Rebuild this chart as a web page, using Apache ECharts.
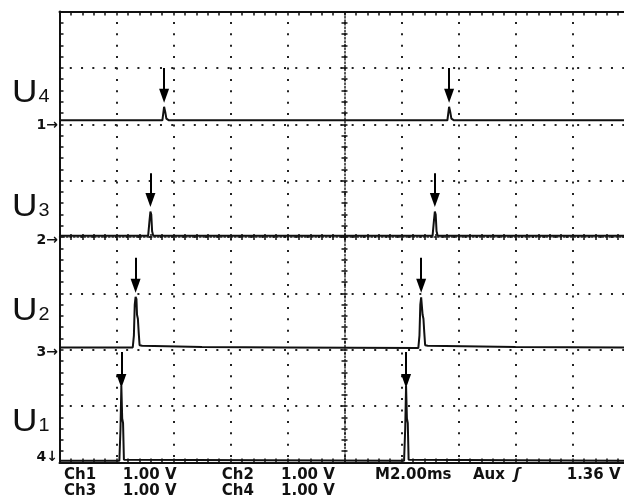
<!DOCTYPE html>
<html><head><meta charset="utf-8">
<script src="https://cdn.jsdelivr.net/npm/echarts@6/dist/echarts.min.js"></script>
<style>html,body{margin:0;padding:0;background:#fff}#c{width:624px;height:498px}</style>
</head><body><div id="c"></div>
<script>
// ---- data (x: time in ms, 2 ms/div; y: screen divisions 0..8) ----
const traceLabels = ['4', '3', '2', '1'];          // subscripts of U4, U3, U2, U1
const channelMarkers = ['1\u2192', '2\u2192', '3\u2192', '4\u2193'];
const u4Trace = [[0,6.07],[3.61,6.07],[3.67,6.31],[3.71,6.22],[3.75,6.10],[3.84,6.07],
                 [13.61,6.07],[13.67,6.31],[13.71,6.22],[13.75,6.10],[13.84,6.07],[20,6.07]];
const u3Trace = [[0,4.02],[3.11,4.02],[3.16,4.30],[3.19,4.45],[3.22,4.40],[3.25,4.10],[3.29,4.02],
                 [13.09,4.02],[13.14,4.30],[13.17,4.45],[13.20,4.40],[13.23,4.10],[13.27,4.02],[20,4.02]];
const u2Trace = [[0,2.04],[2.57,2.04],[2.61,2.25],[2.64,2.80],[2.67,2.94],[2.70,2.90],[2.72,2.62],
                 [2.75,2.55],[2.78,2.30],[2.81,2.08],[2.90,2.07],[5,2.05],[8,2.04],
                 [12.59,2.03],[12.63,2.25],[12.66,2.80],[12.69,2.93],[12.72,2.90],[12.74,2.62],
                 [12.77,2.55],[12.80,2.30],[12.83,2.08],[12.92,2.07],[16,2.05],[20,2.04]];
const u1Trace = [[0,0.03],[2.10,0.03],[2.14,0.60],[2.17,1.36],[2.20,0.78],[2.23,0.70],[2.26,0.05],[2.32,0.03],
                 [12.09,0.03],[12.13,0.60],[12.16,1.36],[12.19,0.78],[12.22,0.70],[12.25,0.05],[12.31,0.03],[20,0.03]];
const arrowTimes = [[3.67,13.67],[3.19,13.17],[2.67,12.69],[2.17,12.16]];
const arrowTops  = [7.00, 5.13, 3.63, 1.96];
const arrowTips  = [6.38, 4.53, 3.01, 1.32];
const readoutRow1 = ['Ch1','1.00 V','Ch2','1.00 V','M2.00ms','Aux','\u0283','1.36 V'];
const readoutRow2 = ['Ch3','1.00 V','Ch4','1.00 V'];

// ---- layout ----
const traces = [u4Trace, u3Trace, u2Trace, u1Trace];
const labelPos = [[12,109],[12,223],[12,327],[12,438]];
const markerY = [125, 240, 352, 457];
const row1X = [64,122.7,221.7,281,375,473,514,566.7];
const row2X = [64,122.7,221.7,281];
const INK = '#111';
const GRID = {left:59.5, top:11.5, width:570, height:451, outerBoundsMode:'none', containLabel:false};
const headPx = 14, pxPerDiv = 451/8;

const chart = echarts.init(document.getElementById('c'), null, {renderer:'canvas'});

const tickStyle = {color:INK, width:1.5};
function mainX(pos, split){
  return {gridIndex:0, type:'value', min:0, max:20, interval:2, position:pos,
    axisLine:{show:true, onZero:false, lineStyle:{color:INK, width:2}},
    axisTick:{show:true, inside:true, length:4, lineStyle:tickStyle},
    minorTick:{show:true, splitNumber:5, length:4, lineStyle:tickStyle},
    axisLabel:{show:false},
    splitLine:{show:split, lineStyle:{color:'#222', width:2, type:[2,9.4], dashOffset:1}}};
}
function centerX(g, inside, line){
  return {gridIndex:g, type:'value', min:-10, max:10, interval:2,
    axisLine:{show:line, onZero:true, lineStyle:{color:'#222', width:1.5, type:[1.5,2]}},
    axisTick:{show:true, inside:inside, length:3, lineStyle:tickStyle},
    minorTick:{show:true, splitNumber:5, length:3, lineStyle:tickStyle},
    axisLabel:{show:false}, splitLine:{show:false}};
}
function centerY(g, inside, line){
  return {gridIndex:g, type:'value', min:-4, max:4, interval:1,
    axisLine:{show:line, onZero:true, lineStyle:{color:'#222', width:1.5, type:[1.5,2]}},
    axisTick:{show:true, inside:inside, length:3, lineStyle:tickStyle},
    minorTick:{show:true, splitNumber:5, length:3, lineStyle:tickStyle},
    axisLabel:{show:false}, splitLine:{show:false}};
}

const series = traces.map((data, i) => ({
  type:'line', xAxisIndex:0, yAxisIndex:0, data:data, symbol:'none', showSymbol:false,
  lineStyle:{color:INK, width:2}, silent:true, z:5,
  markLine:{silent:true, symbol:['none','triangle'], symbolSize:[10,headPx],
    lineStyle:{color:'#000', width:2, type:'solid'}, label:{show:false}, emphasis:{disabled:true},
    data: arrowTimes[i].map(t => [{coord:[t, arrowTops[i]]},{coord:[t, arrowTips[i] + headPx/2/pxPerDiv]}])}
}));

const LF = 'Liberation Sans, Arial, sans-serif';
const graphics = [];
traceLabels.forEach((s, i) => {
  graphics.push({type:'text', x:labelPos[i][0], y:labelPos[i][1], scaleX:1.1, silent:true,
    style:{text:'{u|U}{s|' + s + '}', align:'left', verticalAlign:'bottom',
      rich:{u:{fontSize:32, fontFamily:LF, fill:INK, verticalAlign:'bottom'},
            s:{fontSize:18, fontFamily:LF, fill:INK, verticalAlign:'bottom', padding:[0,0,3,1]}}}});
});
channelMarkers.forEach((m, i) => {
  graphics.push({type:'text', x:58, y:markerY[i], silent:true,
    style:{text:m, align:'right', verticalAlign:'middle', fontSize:14, fontWeight:'bold', fontFamily:'DejaVu Sans', fill:INK}});
});
const rfont = {fontSize:15, fontWeight:'bold', fontFamily:'DejaVu Sans', fill:INK, verticalAlign:'middle', align:'left'};
readoutRow1.forEach((t, i) => graphics.push({type:'text', x:row1X[i], y:475, silent:true,
  style:Object.assign({text:t}, rfont, i===6 ? {fontStyle:'italic'} : {})}));
readoutRow2.forEach((t, i) => graphics.push({type:'text', x:row2X[i], y:491, silent:true,
  style:Object.assign({text:t}, rfont)}));

chart.setOption({
  animation:false,
  backgroundColor:'#fff',
  grid:[GRID, GRID, GRID],
  xAxis:[mainX('bottom', true), mainX('top', false), centerX(1, true, true), centerX(2, false, false)],
  yAxis:[
    {gridIndex:0, type:'value', min:0, max:8, interval:1, position:'left',
      axisLine:{show:true, onZero:false, lineStyle:{color:INK, width:2}},
      axisTick:{show:true, inside:true, length:4, lineStyle:tickStyle},
      minorTick:{show:true, splitNumber:5, length:4, lineStyle:tickStyle},
      axisLabel:{show:false},
      splitLine:{show:true, lineStyle:{color:'#222', width:2, type:[2,9.275], dashOffset:1}}},
    centerY(1, true, true), centerY(2, false, false)
  ],
  series: series,
  graphic: graphics
});
</script></body></html>
